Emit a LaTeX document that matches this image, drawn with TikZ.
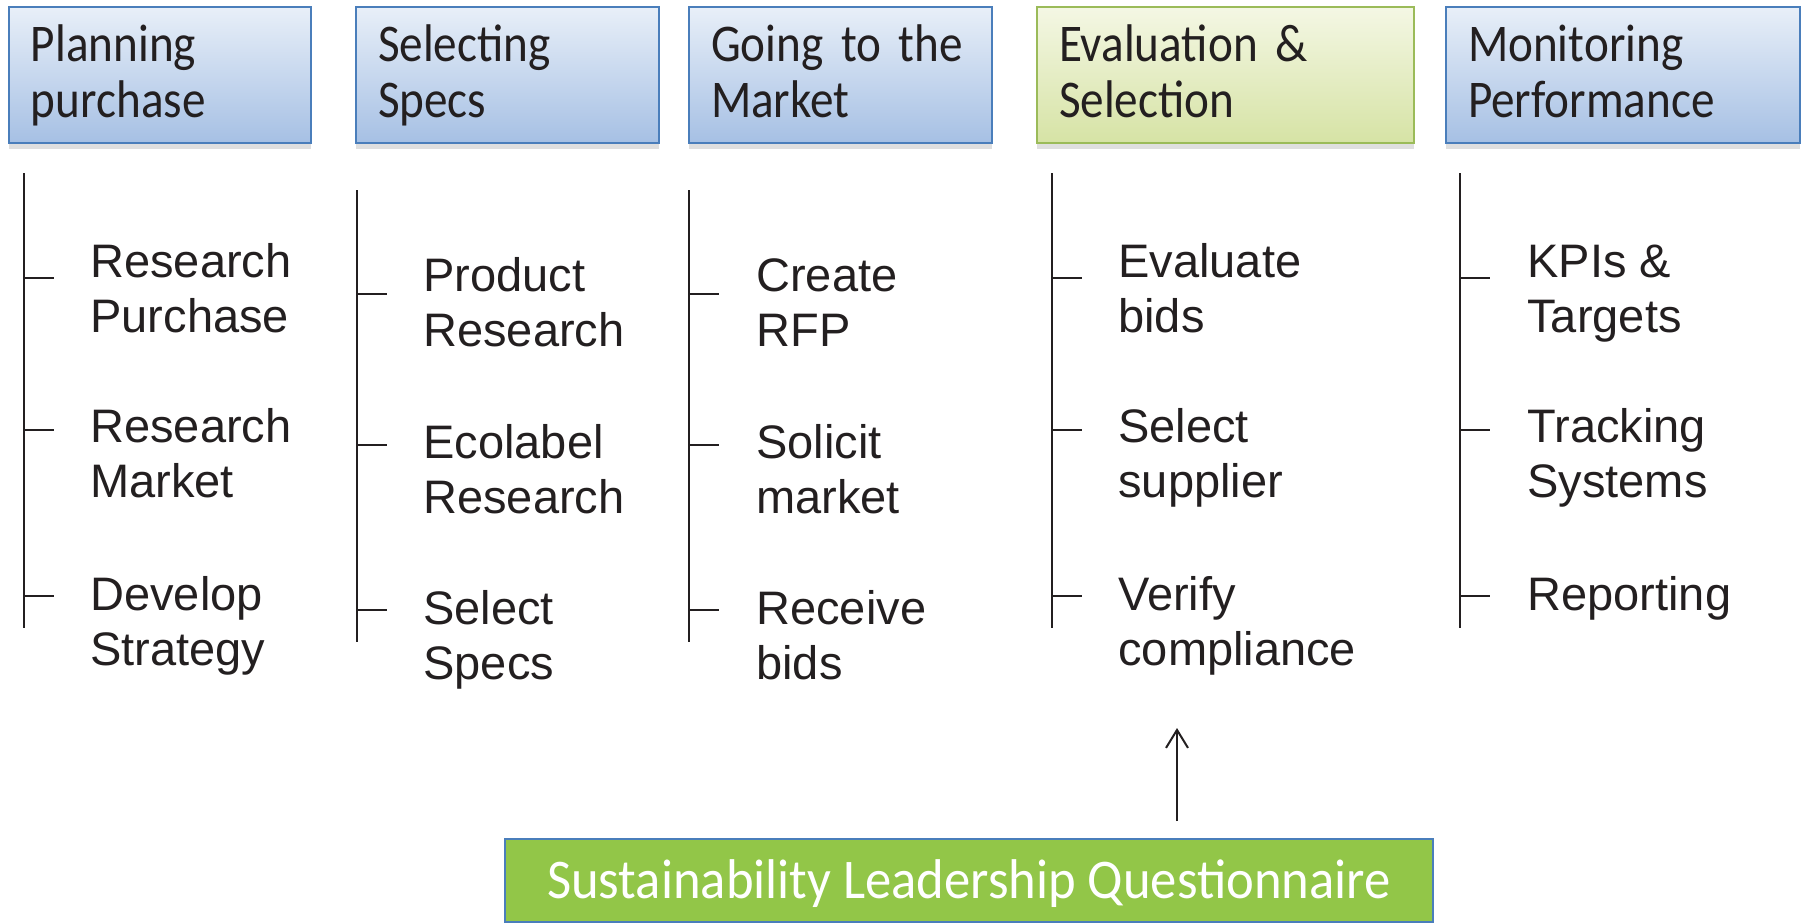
\documentclass[tikz,border=0pt]{standalone}
\usepackage{fontspec}
\setmainfont{Liberation Sans}
\newfontfamily\hdrfont[FakeStretch=0.89]{Carlito}
\newfontfamily\slqfont[FakeStretch=0.94]{Carlito}
\usetikzlibrary{arrows.meta,shadows}
\definecolor{hdrblue}{RGB}{74,126,187}
\definecolor{bluetop}{RGB}{232,239,248}
\definecolor{bluebot}{RGB}{166,192,228}
\definecolor{hdrgreen}{RGB}{155,187,89}
\definecolor{greentop}{RGB}{244,247,228}
\definecolor{greenbot}{RGB}{214,227,165}
\definecolor{slqgreen}{RGB}{146,198,72}
\definecolor{ink}{RGB}{35,31,32}

\newcommand{\htop}{\rule{0pt}{21pt}}
\newcommand{\hbot}{\rule[-7pt]{0pt}{7pt}}

\begin{document}
\begin{tikzpicture}[x=0.5pt, y=-0.5pt,
    hdr/.style={draw=hdrblue, line width=1pt, top color=bluetop, bottom color=bluebot,
        minimum height=68pt, inner xsep=11pt, inner ysep=2pt, text width=#1, align=left,
        font=\hdrfont\fontsize{26.5}{28}\selectfont, text=ink,
        drop shadow={shadow xshift=0pt, shadow yshift=-3pt, opacity=0.25}},
    greenhdr/.style={hdr=#1, draw=hdrgreen, top color=greentop, bottom color=greenbot},
    item/.style={anchor=base west, inner sep=0pt, align=left, text=ink,
        font=\fontsize{23.5}{27.5}\selectfont},
    stem/.style={ink, line width=1pt},
    arr/.style={-{Straight Barb[length=9pt,width=11pt]}, ink, line width=1pt}]

    \useasboundingbox (0,0) rectangle (1806,923);

    % Stage headers
    \node[hdr=129pt] (plan) at (160,75) {\htop Planning\\purchase\hbot};
    \node[hdr=129.5pt] (specs) at (507.5,75) {\htop Selecting\\Specs\hbot};
    \node[hdr=129.5pt] (market) at (840.5,75) {\htop Going to the\\Market\hbot};
    \node[greenhdr=166.5pt] (evalsel) at (1225.5,75) {\htop Evaluation \&\\Selection\hbot};
    \node[hdr=155pt] (monitor) at (1623,75) {\htop Monitoring\\Performance\hbot};

    % Stems and ticks
    \foreach \cx/\ya/\yb/\ta/\tb/\tc in {24/173/628/278/430/596, 357/190/642/294/445/610,
        689/190/642/294/445/610, 1052/173/628/278/430/596, 1460/173/628/278/430/596} {
        \draw[stem] (\cx,\ya) -- (\cx,\yb);
        \foreach \ty in {\ta,\tb,\tc}
            \draw[stem] (\cx,\ty) -- ++(30,0);
    }

    % Steps under each stage (base = second line)
    \foreach \n/\y/\t in {1/332/Research\\Purchase, 2/497/Research\\Market, 3/665/Develop\\Strategy}
        \node[item] (plan\n) at (90,\y) {\t};
    \foreach \n/\y/\t in {1/346/Product\\Research, 2/513/Ecolabel\\Research, 3/679/Select\\Specs}
        \node[item] (specs\n) at (423,\y) {\t};
    \foreach \n/\y/\t in {1/346/Create\\RFP, 2/513/Solicit\\market, 3/679/Receive\\bids}
        \node[item] (market\n) at (756,\y) {\t};
    \foreach \n/\y/\t in {1/332/Evaluate\\bids, 2/497/Select\\supplier, 3/665/Verify\\compliance}
        \node[item] (evalsel\n) at (1118,\y) {\t};
    \foreach \n/\y/\t in {1/332/KPIs \&\\Targets, 2/497/Tracking\\Systems, 3/610/Reporting}
        \node[item] (monitor\n) at (1527,\y) {\t};

    % Questionnaire
    \node[draw=hdrblue, line width=1pt, fill=slqgreen, text=white, minimum width=464pt,
        minimum height=41.5pt, text height=24pt, text depth=6pt,
        font=\slqfont\fontsize{28}{30}\selectfont] (slq) at (969,880.5)
        {Sustainability Leadership Questionnaire};
    \coordinate (evaltip) at (1177,728);
    \draw[arr, shorten <=8.5pt] (evaltip |- slq.north) -- (evaltip);

\end{tikzpicture}
\end{document}
